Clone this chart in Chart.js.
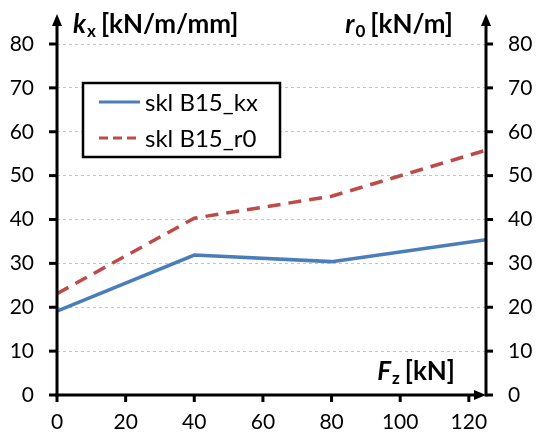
<!DOCTYPE html>
<html>
<head>
<meta charset="utf-8">
<script src="https://cdn.jsdelivr.net/npm/chart.js@4.4.0/dist/chart.umd.min.js"></script>
<style>
  html, body { margin: 0; padding: 0; background: #fff; }
  #wrap { width: 538px; height: 436px; }
</style>
</head>
<body>
<div id="wrap"><canvas id="chart"></canvas></div>
<script>
// values
const fz = [0, 40, 80, 125];
const kx = [19.1, 31.9, 30.4, 35.4];
const r0 = [23.1, 40.3, 45.3, 55.8];
const xTicks = [0, 20, 40, 60, 80, 100, 120];
const yTicks = [0, 10, 20, 30, 40, 50, 60, 70, 80];
const seriesNames = ["skl B15_kx", "skl B15_r0"];

const FONT = "Lato, 'Open Sans', sans-serif";
const BLUE = "#4a7ebb";
const RED = "#be4b48";

function seg(ctx, x1, y1, x2, y2) {
  ctx.beginPath();
  ctx.moveTo(x1, y1);
  ctx.lineTo(x2, y2);
  ctx.stroke();
}

function tri(ctx, pts) {
  ctx.beginPath();
  ctx.moveTo(pts[0], pts[1]);
  ctx.lineTo(pts[2], pts[3]);
  ctx.lineTo(pts[4], pts[5]);
  ctx.closePath();
  ctx.fill();
}

// italic symbol + subscript + unit, x is the left edge
function labelWithSub(ctx, x, y, main, sub, rest, size) {
  ctx.textBaseline = "alphabetic";
  ctx.textAlign = "left";
  ctx.font = "italic bold " + size + "px " + FONT;
  ctx.fillText(main, x, y);
  x += ctx.measureText(main).width + 1;
  ctx.font = "bold " + Math.round(size * 0.66) + "px " + FONT;
  ctx.fillText(sub, x, y + 4);
  x += ctx.measureText(sub).width + 5;
  ctx.font = "bold " + size + "px " + FONT;
  ctx.fillText(rest, x, y);
}

function textWidth(ctx, main, sub, rest, size) {
  ctx.font = "italic bold " + size + "px " + FONT;
  let w = ctx.measureText(main).width + 1;
  ctx.font = "bold " + Math.round(size * 0.66) + "px " + FONT;
  w += ctx.measureText(sub).width + 5;
  ctx.font = "bold " + size + "px " + FONT;
  return w + ctx.measureText(rest).width;
}

const decor = {
  id: "decor",
  afterDraw(chart) {
    const { ctx, chartArea: a, scales } = chart;
    const x = scales.x, y = scales.y;
    ctx.save();
    ctx.strokeStyle = "#000";
    ctx.fillStyle = "#000";
    ctx.lineWidth = 3;
    ctx.lineCap = "butt";

    // axes with arrow heads
    seg(ctx, a.left, a.bottom + 1.5, a.left, 24);
    tri(ctx, [a.left, 14, a.left - 5, 26, a.left + 5, 26]);
    seg(ctx, a.right, a.bottom + 1.5, a.right, 24);
    tri(ctx, [a.right, 14, a.right - 5, 26, a.right + 5, 26]);
    seg(ctx, a.left - 1.5, a.bottom, a.right - 10, a.bottom);
    tri(ctx, [a.right, a.bottom, a.right - 12, a.bottom - 5, a.right - 12, a.bottom + 5]);

    // tick marks
    yTicks.forEach(v => {
      const py = y.getPixelForValue(v);
      seg(ctx, a.left - 8, py, a.left, py);
      seg(ctx, a.right, py, a.right + 7, py);
    });
    xTicks.forEach(v => {
      const px = x.getPixelForValue(v);
      seg(ctx, px, a.bottom, px, a.bottom + 7);
    });

    // axis titles
    const ts = 26;
    labelWithSub(ctx, 73, 33, "k", "x", "[kN/m/mm]", ts);
    labelWithSub(ctx, 453 - textWidth(ctx, "r", "0", "[kN/m]", ts), 33, "r", "0", "[kN/m]", ts);
    labelWithSub(ctx, 455 - textWidth(ctx, "F", "z", "[kN]", ts), 380, "F", "z", "[kN]", ts);

    // legend
    const bx = 83, by = 83, bw = 197, bh = 74;
    ctx.fillStyle = "#fff";
    ctx.fillRect(bx, by, bw, bh);
    ctx.lineWidth = 2.5;
    ctx.strokeRect(bx, by, bw, bh);
    ctx.font = "24px " + FONT;
    ctx.textBaseline = "alphabetic";
    ctx.textAlign = "left";
    chart.data.datasets.forEach((ds, i) => {
      const ly = 102 + i * 36;
      ctx.strokeStyle = ds.borderColor;
      ctx.lineWidth = 3;
      if (ds.borderDash) {
        ctx.setLineDash([9, 5]);
        seg(ctx, 99, ly, 136, ly);
      } else {
        seg(ctx, 99, ly, 140, ly);
      }
      ctx.setLineDash([]);
      ctx.fillStyle = "#000";
      ctx.fillText(ds.label, 145, ly + 8.5);
    });
    ctx.restore();
  }
};

new Chart(document.getElementById("chart"), {
  type: "line",
  data: {
    datasets: [
      {
        label: seriesNames[0],
        data: fz.map((v, i) => ({ x: v, y: kx[i] })),
        yAxisID: "y",
        borderColor: BLUE,
        borderWidth: 3.5,
        pointRadius: 0,
        tension: 0
      },
      {
        label: seriesNames[1],
        data: fz.map((v, i) => ({ x: v, y: r0[i] })),
        yAxisID: "y1",
        borderColor: RED,
        borderWidth: 3.5,
        borderDash: [13, 8],
        pointRadius: 0,
        tension: 0
      }
    ]
  },
  options: {
    responsive: true,
    maintainAspectRatio: false,
    animation: false,
    events: [],
    layout: { padding: { top: 44, left: 0, right: 0, bottom: 0 } },
    plugins: { legend: { display: false }, tooltip: { enabled: false } },
    scales: {
      x: {
        type: "linear",
        min: 0,
        max: 125,
        afterBuildTicks: s => { s.ticks = xTicks.map(v => ({ value: v })); },
        afterFit: s => { s.height = 41; },
        grid: { display: false, drawTicks: false },
        border: { display: false },
        ticks: { padding: 15, color: "#000", font: { family: FONT, size: 21 }, maxRotation: 0 }
      },
      y: {
        position: "left",
        min: 0,
        max: 80,
        afterBuildTicks: s => { s.ticks = yTicks.map(v => ({ value: v })); },
        afterFit: s => { s.width = 57; },
        grid: {
          drawTicks: false,
          color: c => (c.tick && c.tick.value === 0 ? "rgba(0,0,0,0)" : "#c4c4c4"),
          lineWidth: 1
        },
        border: { display: false, dash: [3, 3] },
        ticks: { padding: 23, color: "#000", font: { family: FONT, size: 21 } }
      },
      y1: {
        position: "right",
        min: 0,
        max: 80,
        afterBuildTicks: s => { s.ticks = yTicks.map(v => ({ value: v })); },
        afterFit: s => { s.width = 52; },
        grid: { display: false, drawTicks: false },
        border: { display: false },
        ticks: { padding: 22, color: "#000", font: { family: FONT, size: 21 } }
      }
    }
  },
  plugins: [decor]
});
</script>
</body>
</html>
